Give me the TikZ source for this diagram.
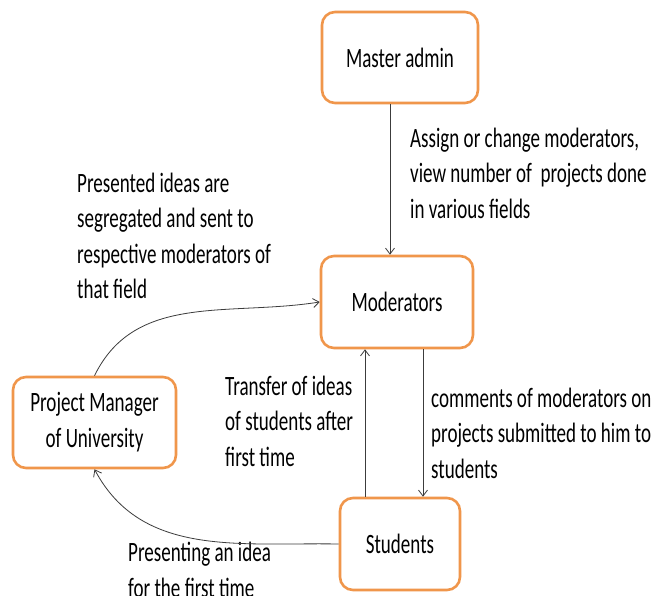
\documentclass[tikz,border=0pt]{standalone}
\usepackage{fontspec}
\setmainfont{Carlito}[FakeStretch=0.68]
\usetikzlibrary{arrows.meta}
\definecolor{boxorange}{RGB}{240,150,75}
\definecolor{linegray}{RGB}{60,60,60}
\tikzset{
  entity/.style={draw=boxorange, line width=2.6pt, rounded corners=13pt, fill=white,
    align=center, inner sep=0pt, font=\fontsize{28}{36}\selectfont},
  note/.style={align=left, inner sep=0pt, anchor=west, font=\fontsize{28}{35.5}\selectfont},
  flow/.style={draw=linegray, line width=0.8pt, -{Straight Barb[length=6pt,width=9pt]}}
}
\begin{document}
\begin{tikzpicture}[x=1pt,y=-1pt]
\clip (0,0) rectangle (658,596);
\fill[white] (0,0) rectangle (658,596);

\node[entity, minimum width=156pt, minimum height=91pt] (master) at (400,57.5) {Master admin};
\node[entity, minimum width=152pt, minimum height=92pt] (mod) at (397,302) {Moderators};
\node[entity, minimum width=163pt, minimum height=91pt] (pm) at (94.5,422.5) {Project Manager\\of University};
\node[entity, minimum width=120pt, minimum height=92pt] (stu) at (400,544) {Students};

\node[note] (n1) at (410,173) {Assign or change moderators,\\view number of\ \ projects done\\in various fields};
\node[note] (n2) at (77,236) {Presented ideas are\\segregated and sent to\\respective moderators of\\that field};
\node[note] (n3) at (225,421) {Transfer of ideas\\of students after\\first time};
\node[note] (n4) at (431,433) {comments of moderators on\\projects submitted to him to\\students};
\node[note] (n5) at (128,570) {Presenting an idea\\for the first time};

\coordinate (m1) at ([xshift=-10pt]master.south);
\draw[flow] (m1) -- (m1 |- mod.north);

\coordinate (u1) at ([xshift=-32pt]mod.south);
\draw[flow] (stu.north -| u1) -- (u1);

\coordinate (d1) at ([xshift=26pt]mod.south);
\draw[flow] (d1) -- (d1 |- stu.north);

\draw[flow] (pm.north) to[out=64,in=189] (mod.west);
\draw[flow] (stu.west) to[out=179,in=-62] (pm.south);
\end{tikzpicture}
\end{document}
